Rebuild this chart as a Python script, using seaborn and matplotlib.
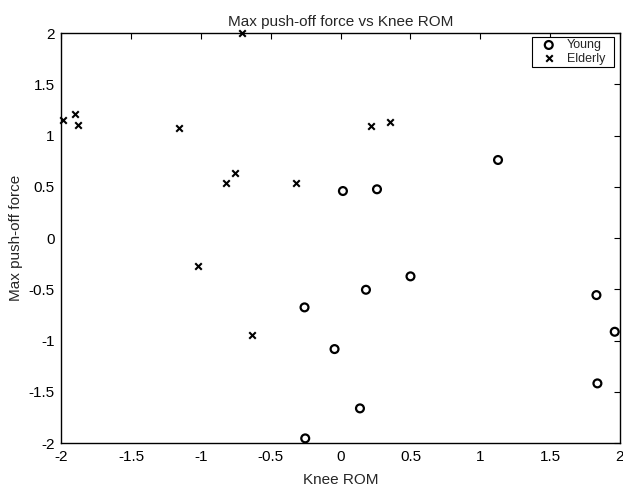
import numpy as np
import pandas as pd
import matplotlib
matplotlib.use('Agg')
import matplotlib.pyplot as plt
import seaborn as sns

# valores
young_x = [0.016, 0.26, 1.127, -0.259, 0.181, 0.50, -0.044, 0.138, -0.254, 1.832, 1.963, 1.839]
young_y = [0.46, 0.477, 0.763, -0.676, -0.504, -0.373, -1.083, -1.662, -1.955, -0.556, -0.914, -1.418]
elderly_x = [-1.987, -1.90, -1.88, -1.16, -0.708, -0.823, -0.756, -0.319, 0.219, 0.353, -1.019, -0.632]
elderly_y = [1.153, 1.215, 1.105, 1.08, 2.0, 0.535, 0.636, 0.541, 1.095, 1.131, -0.272, -0.943]
tick_vals = [-2, -1.5, -1, -0.5, 0, 0.5, 1, 1.5, 2]
tick_labels = ['-2', '-1.5', '-1', '-0.5', '0', '0.5', '1', '1.5', '2']

df_young = pd.DataFrame({'Knee ROM': young_x, 'Max push-off force': young_y})
df_elderly = pd.DataFrame({'Knee ROM': elderly_x, 'Max push-off force': elderly_y})

sns.set_style('white')
plt.rcParams['font.family'] = ['Liberation Sans', 'DejaVu Sans']

fig = plt.figure(figsize=(6.23, 4.88), dpi=100)
ax = fig.add_axes([0.0987, 0.0922, 0.8963, 0.8396])

sns.scatterplot(data=df_young, x='Knee ROM', y='Max push-off force', ax=ax,
                marker='o', s=32, facecolors='none', edgecolor='black',
                linewidth=1.6, label='Young', clip_on=False, zorder=3)
sns.scatterplot(data=df_elderly, x='Knee ROM', y='Max push-off force', ax=ax,
                marker='x', s=22, color='black', linewidth=1.5,
                label='Elderly', clip_on=False, zorder=3)

ax.set_xlim(-2, 2)
ax.set_ylim(-2, 2)
ax.set_xticks(tick_vals)
ax.set_yticks(tick_vals)
ax.set_xticklabels(tick_labels)
ax.set_yticklabels(tick_labels)
ax.tick_params(direction='in', length=4, width=0.8, top=True, right=True,
               labelsize=11, colors='black', pad=5)
for sp in ax.spines.values():
    sp.set_color('black')
    sp.set_linewidth(1.0)

ax.set_title('Max push-off force vs Knee ROM', fontsize=11, pad=5)
ax.set_xlabel('Knee ROM', fontsize=11)
ax.set_ylabel('Max push-off force', fontsize=11)
ax.xaxis.set_label_coords(0.5, -0.074)
ax.yaxis.set_label_coords(-0.069, 0.5)

# legenda com largura fixa, como no original
leg = ax.legend(loc='upper left', bbox_to_anchor=(0.8424, 0.5, 0.1469, 0.49),
                mode='expand', fontsize=9, frameon=True, fancybox=False,
                edgecolor='black', framealpha=1, borderpad=0.15,
                handlelength=2.4, handletextpad=0.25, labelspacing=0.12,
                borderaxespad=0)
leg.get_frame().set_linewidth(0.8)

fig.savefig('out.png', dpi=100)
